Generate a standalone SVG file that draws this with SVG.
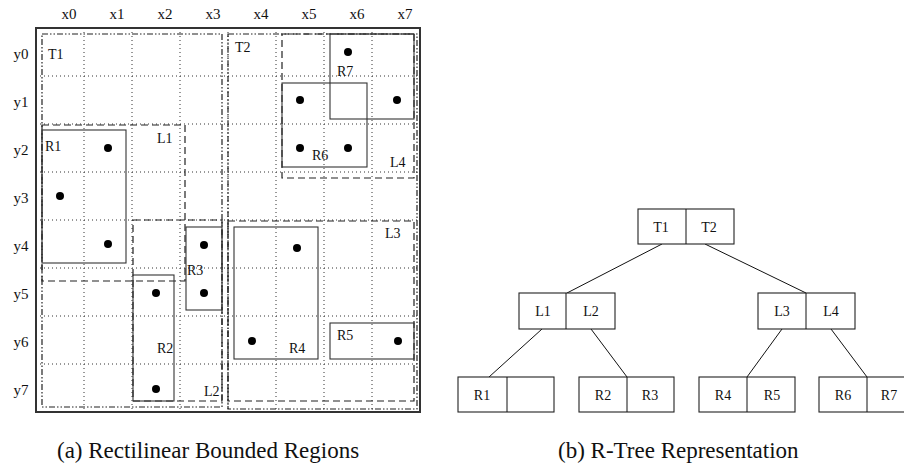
<svg xmlns="http://www.w3.org/2000/svg" width="904" height="465" viewBox="0 0 904 465">
<style>
text{font-family:"Liberation Serif","Times New Roman",serif;fill:#111}
.ax{font-size:15px}
.lb{font-size:14px}
.tl{font-size:14px;text-anchor:middle}
.cap{font-size:23px}
.grid{stroke:#333;stroke-width:1;stroke-dasharray:1,3;fill:none}
.frame{fill:none;stroke:#333;stroke-width:2}
.top{fill:none;stroke:#222;stroke-width:1.2;stroke-dasharray:6,2,1.5,2,1.5,2}
.lev{fill:none;stroke:#222;stroke-width:1.2;stroke-dasharray:7,4}
.reg{fill:none;stroke:#333;stroke-width:1.1}
.pt{fill:#000}
.box{fill:#fff;stroke:#222;stroke-width:1.1}
.edge{stroke:#111;stroke-width:1;fill:none}
</style>
<rect width="904" height="465" fill="#fff"/>

<g id="axes">
<text class="ax" x="69" y="19" text-anchor="middle">x0</text>
<text class="ax" x="117" y="19" text-anchor="middle">x1</text>
<text class="ax" x="165" y="19" text-anchor="middle">x2</text>
<text class="ax" x="213" y="19" text-anchor="middle">x3</text>
<text class="ax" x="261" y="19" text-anchor="middle">x4</text>
<text class="ax" x="309" y="19" text-anchor="middle">x5</text>
<text class="ax" x="357" y="19" text-anchor="middle">x6</text>
<text class="ax" x="405" y="19" text-anchor="middle">x7</text>
<text class="ax" x="21" y="59" text-anchor="middle">y0</text>
<text class="ax" x="21" y="107" text-anchor="middle">y1</text>
<text class="ax" x="21" y="155" text-anchor="middle">y2</text>
<text class="ax" x="21" y="203" text-anchor="middle">y3</text>
<text class="ax" x="21" y="251" text-anchor="middle">y4</text>
<text class="ax" x="21" y="299" text-anchor="middle">y5</text>
<text class="ax" x="21" y="347" text-anchor="middle">y6</text>
<text class="ax" x="21" y="395" text-anchor="middle">y7</text>
</g>

<g id="grid">
<path class="grid" d="M84 28V412M132 28V412M180 28V412M228 28V412M276 28V412M324 28V412M372 28V412M36 76H420M36 124H420M36 172H420M36 220H420M36 268H420M36 316H420M36 364H420"/>
<rect class="frame" x="36" y="28" width="384" height="384"/>
</g>

<g id="T1"><rect class="top" x="42" y="34" width="180" height="373"/><text class="lb" x="48" y="59">T1</text></g>
<g id="T2"><rect class="top" x="228" y="34" width="189" height="375"/><text class="lb" x="235" y="52">T2</text></g>
<g id="L1"><rect class="lev" x="42" y="125" width="143" height="156"/><text class="lb" x="157" y="143">L1</text></g>
<g id="L2"><rect class="lev" x="133" y="220" width="89" height="181"/><text class="lb" x="204" y="396">L2</text></g>
<g id="L3"><rect class="lev" x="228" y="221" width="186" height="180"/><text class="lb" x="385" y="238">L3</text></g>
<g id="L4"><rect class="lev" x="282" y="34" width="132" height="144"/><text class="lb" x="390" y="167">L4</text></g>

<g id="R1"><rect class="reg" x="42" y="130" width="84" height="133"/><text class="lb" x="45" y="151">R1</text>
<circle class="pt" cx="108" cy="148" r="4"/><circle class="pt" cx="60" cy="196" r="4"/><circle class="pt" cx="108" cy="244" r="4"/></g>
<g id="R2"><rect class="reg" x="133" y="275" width="41" height="126"/><text class="lb" x="157" y="353">R2</text>
<circle class="pt" cx="156" cy="293" r="4"/><circle class="pt" cx="156" cy="389" r="4"/></g>
<g id="R3"><rect class="reg" x="186" y="227" width="36" height="83"/><text class="lb" x="187" y="275">R3</text>
<circle class="pt" cx="204" cy="245" r="4"/><circle class="pt" cx="204" cy="293" r="4"/></g>
<g id="R4"><rect class="reg" x="234" y="227" width="84" height="132"/><text class="lb" x="289" y="353">R4</text>
<circle class="pt" cx="297" cy="248" r="4"/><circle class="pt" cx="252" cy="341" r="4"/></g>
<g id="R5"><rect class="reg" x="330" y="323" width="84" height="36"/><text class="lb" x="337" y="340">R5</text>
<circle class="pt" cx="398" cy="341" r="4"/></g>
<g id="R6"><rect class="reg" x="282" y="83" width="85" height="84"/><text class="lb" x="312" y="160">R6</text>
<circle class="pt" cx="300" cy="100" r="4"/><circle class="pt" cx="300" cy="148" r="4"/><circle class="pt" cx="348" cy="148" r="4"/></g>
<g id="R7"><rect class="reg" x="330" y="34" width="84" height="85"/><text class="lb" x="337" y="76">R7</text>
<circle class="pt" cx="348" cy="52" r="4"/><circle class="pt" cx="397" cy="100" r="4"/></g>

<g id="connectors">
<line class="edge" x1="662" y1="244" x2="567" y2="293"/>
<line class="edge" x1="705" y1="244" x2="806" y2="293"/>
<line class="edge" x1="542" y1="329" x2="489" y2="377"/>
<line class="edge" x1="591" y1="329" x2="627" y2="377"/>
<line class="edge" x1="782" y1="329" x2="747" y2="377"/>
<line class="edge" x1="831" y1="329" x2="867" y2="377"/>
</g>

<g id="nodeT"><rect class="box" x="638" y="209" width="96" height="35"/><line class="edge" x1="686" y1="209" x2="686" y2="244"/>
<text class="tl" x="661" y="232">T1</text><text class="tl" x="709" y="232">T2</text></g>
<g id="nodeL12"><rect class="box" x="519" y="293" width="96" height="36"/><line class="edge" x1="566" y1="293" x2="566" y2="329"/>
<text class="tl" x="543" y="316">L1</text><text class="tl" x="591" y="316">L2</text></g>
<g id="nodeL34"><rect class="box" x="758" y="293" width="97" height="36"/><line class="edge" x1="806" y1="293" x2="806" y2="329"/>
<text class="tl" x="782" y="316">L3</text><text class="tl" x="831" y="316">L4</text></g>
<g id="nodeR1"><rect class="box" x="458" y="377" width="96" height="35"/><line class="edge" x1="507" y1="377" x2="507" y2="412"/>
<text class="tl" x="482" y="400">R1</text></g>
<g id="nodeR23"><rect class="box" x="579" y="377" width="95" height="35"/><line class="edge" x1="627" y1="377" x2="627" y2="412"/>
<text class="tl" x="603" y="400">R2</text><text class="tl" x="650" y="400">R3</text></g>
<g id="nodeR45"><rect class="box" x="699" y="377" width="96" height="35"/><line class="edge" x1="747" y1="377" x2="747" y2="412"/>
<text class="tl" x="723" y="400">R4</text><text class="tl" x="772" y="400">R5</text></g>
<g id="nodeR67"><rect class="box" x="819" y="377" width="96" height="35"/><line class="edge" x1="867" y1="377" x2="867" y2="412"/>
<text class="tl" x="843" y="400">R6</text><text class="tl" x="889" y="400">R7</text></g>

<g id="captions">
<text class="cap" x="57" y="458">(a) Rectilinear Bounded Regions</text>
<text class="cap" x="558" y="458">(b) R-Tree Representation</text>
</g>
</svg>
